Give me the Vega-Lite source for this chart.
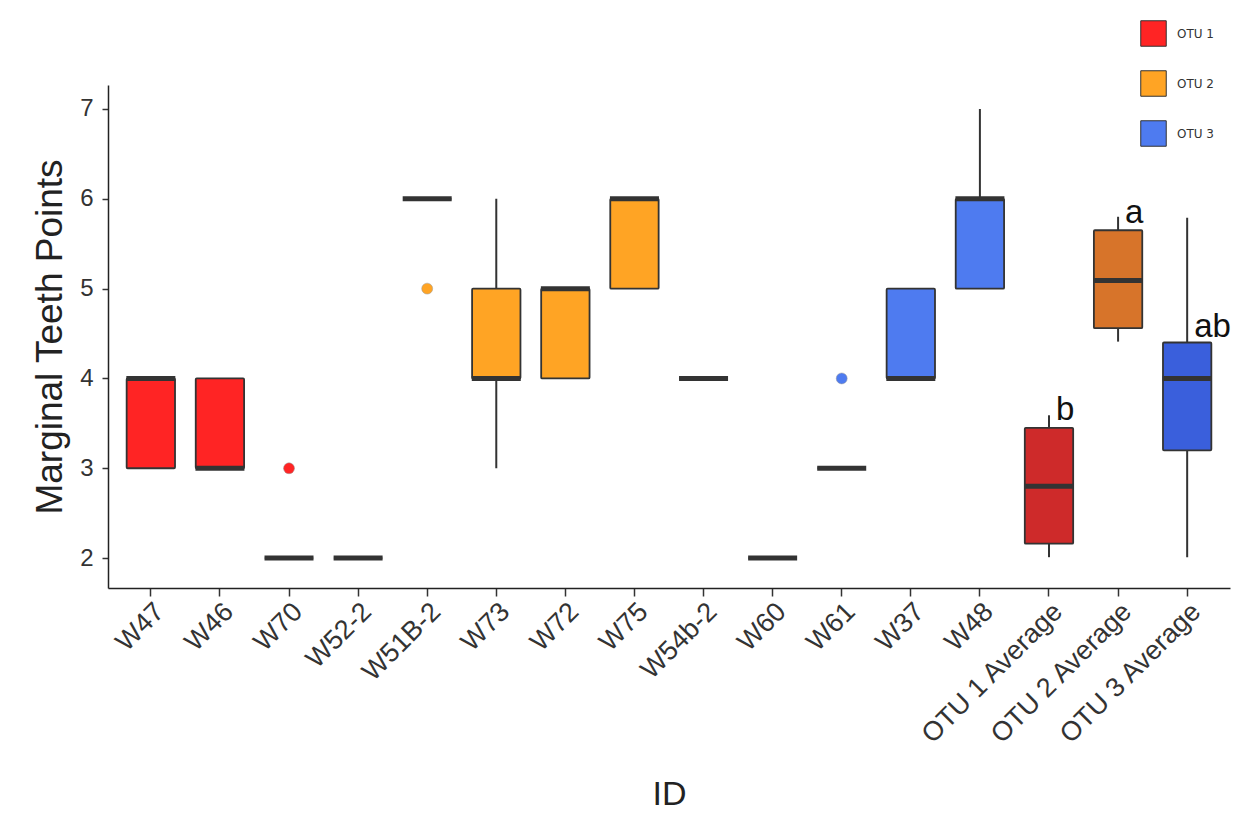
{
  "$schema": "https://vega.github.io/schema/vega-lite/v6.json",
  "autosize": "none",
  "width": 1122,
  "height": 503,
  "padding": {"left": 108, "top": 85, "right": 18, "bottom": 243},
  "background": "white",
  "config": {
    "font": "Liberation Sans",
    "view": {"stroke": null},
    "axis": {"grid": false, "domainColor": "#222", "domainWidth": 1.5, "tickColor": "#333", "tickWidth": 1.5, "labelColor": "#333", "titleColor": "#222", "titleFontWeight": "normal"}
  },
  "datasets": {
    "boxes": [
      {"id": "W47", "fillKey": "OTU 1", "lower": 3, "q1": 3, "median": 4, "q3": 4, "upper": 4},
      {"id": "W46", "fillKey": "OTU 1", "lower": 3, "q1": 3, "median": 3, "q3": 4, "upper": 4},
      {"id": "W70", "fillKey": "OTU 1", "lower": 2, "q1": 2, "median": 2, "q3": 2, "upper": 2},
      {"id": "W52-2", "fillKey": "OTU 1", "lower": 2, "q1": 2, "median": 2, "q3": 2, "upper": 2},
      {"id": "W51B-2", "fillKey": "OTU 2", "lower": 6, "q1": 6, "median": 6, "q3": 6, "upper": 6},
      {"id": "W73", "fillKey": "OTU 2", "lower": 3, "q1": 4, "median": 4, "q3": 5, "upper": 6},
      {"id": "W72", "fillKey": "OTU 2", "lower": 4, "q1": 4, "median": 5, "q3": 5, "upper": 5},
      {"id": "W75", "fillKey": "OTU 2", "lower": 5, "q1": 5, "median": 6, "q3": 6, "upper": 6},
      {"id": "W54b-2", "fillKey": "OTU 2", "lower": 4, "q1": 4, "median": 4, "q3": 4, "upper": 4},
      {"id": "W60", "fillKey": "OTU 3", "lower": 2, "q1": 2, "median": 2, "q3": 2, "upper": 2},
      {"id": "W61", "fillKey": "OTU 3", "lower": 3, "q1": 3, "median": 3, "q3": 3, "upper": 3},
      {"id": "W37", "fillKey": "OTU 3", "lower": 4, "q1": 4, "median": 4, "q3": 5, "upper": 5},
      {"id": "W48", "fillKey": "OTU 3", "lower": 5, "q1": 5, "median": 6, "q3": 6, "upper": 7},
      {"id": "OTU 1 Average", "fillKey": "OTU 1 Average", "lower": 2.01, "q1": 2.16, "median": 2.8, "q3": 3.45, "upper": 3.59},
      {"id": "OTU 2 Average", "fillKey": "OTU 2 Average", "lower": 4.41, "q1": 4.56, "median": 5.09, "q3": 5.65, "upper": 5.8},
      {"id": "OTU 3 Average", "fillKey": "OTU 3 Average", "lower": 2.01, "q1": 3.2, "median": 4.0, "q3": 4.4, "upper": 5.79}
    ],
    "outliers": [
      {"id": "W70", "fillKey": "OTU 1", "value": 3},
      {"id": "W51B-2", "fillKey": "OTU 2", "value": 5},
      {"id": "W61", "fillKey": "OTU 3", "value": 4}
    ],
    "letters": [
      {"id": "OTU 1 Average", "value": 3.65, "letter": "b"},
      {"id": "OTU 2 Average", "value": 5.84, "letter": "a"},
      {"id": "OTU 3 Average", "value": 4.57, "letter": "ab"}
    ]
  },
  "encoding": {
    "x": {
      "field": "id", "type": "nominal", "sort": null,
      "scale": {"domain": ["W47", "W46", "W70", "W52-2", "W51B-2", "W73", "W72", "W75", "W54b-2", "W60", "W61", "W37", "W48", "OTU 1 Average", "OTU 2 Average", "OTU 3 Average"], "paddingInner": 0, "paddingOuter": 0.12},
      "axis": {"title": "ID", "labelAngle": -45, "labelAlign": "right", "labelBaseline": "top", "labelFontSize": 27, "labelPadding": 2, "labelLimit": 400, "tickSize": 8, "titleFontSize": 34, "titlePadding": 29}
    }
  },
  "layer": [
    {
      "data": {"name": "boxes"},
      "mark": {"type": "rule", "color": "#333", "strokeWidth": 2},
      "encoding": {
        "y": {"field": "lower", "type": "quantitative", "scale": {"domain": [1.667, 7.267], "nice": false, "zero": false},
          "axis": {"title": "Marginal Teeth Points", "values": [2, 3, 4, 5, 6, 7], "format": "d", "labelFontSize": 24, "tickSize": 6, "labelPadding": 9, "titleFontSize": 37, "titlePadding": 10}},
        "y2": {"field": "upper"}
      }
    },
    {
      "data": {"name": "boxes"},
      "mark": {"type": "bar", "width": {"band": 0.7}, "stroke": "#333", "strokeWidth": 1.8, "cornerRadius": 1},
      "encoding": {
        "y": {"field": "q1", "type": "quantitative"},
        "y2": {"field": "q3"},
        "fill": {
          "field": "fillKey", "type": "nominal",
          "scale": {"domain": ["OTU 1", "OTU 2", "OTU 3", "OTU 1 Average", "OTU 2 Average", "OTU 3 Average"], "range": ["#FF2424", "#FFA424", "#4E7BF0", "#CE2A2A", "#D7742A", "#3A5FDC"]},
          "legend": {"values": ["OTU 1", "OTU 2", "OTU 3"], "title": null, "orient": "none", "legendX": 1032, "legendY": -65, "symbolType": "square", "symbolSize": 650, "symbolStrokeColor": "#333", "symbolStrokeWidth": 1, "symbolOpacity": 1, "labelFontSize": 12, "labelFont": "DejaVu Sans", "labelColor": "#333", "labelOffset": 10, "rowPadding": 19}
        }
      }
    },
    {
      "data": {"name": "boxes"},
      "mark": {"type": "tick", "color": "#333", "thickness": 5, "size": 49, "opacity": 1},
      "encoding": {
        "y": {"field": "median", "type": "quantitative"}
      }
    },
    {
      "data": {"name": "outliers"},
      "mark": {"type": "point", "filled": true, "size": 120, "opacity": 1, "stroke": "#999", "strokeWidth": 0.5},
      "encoding": {
        "y": {"field": "value", "type": "quantitative"},
        "fill": {"field": "fillKey", "type": "nominal", "legend": null}
      }
    },
    {
      "data": {"name": "letters"},
      "mark": {"type": "text", "fontSize": 33, "color": "#111", "align": "left", "baseline": "middle", "dx": 7},
      "encoding": {
        "y": {"field": "value", "type": "quantitative"},
        "text": {"field": "letter"}
      }
    }
  ]
}
